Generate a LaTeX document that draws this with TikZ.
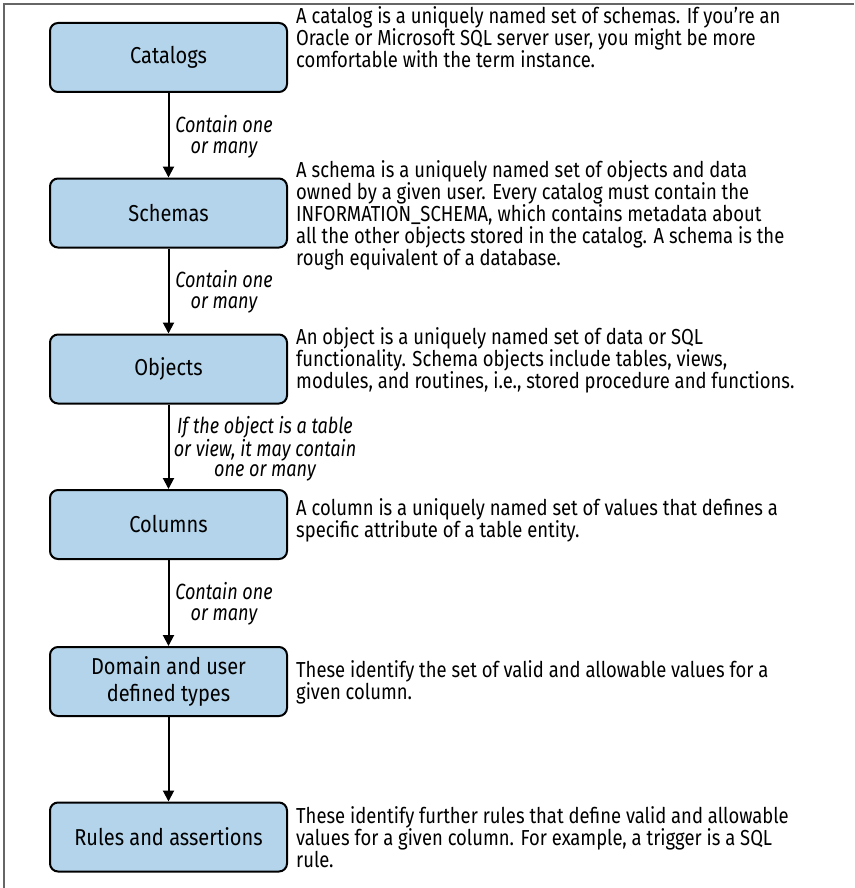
\documentclass[tikz,border=0pt]{standalone}
\usepackage{fontspec}
\setmainfont[FakeStretch=0.85]{Fira Sans}
\newfontfamily\boxfont[FakeStretch=0.87]{Fira Sans}
\newfontfamily\lblfont[FakeStretch=0.82]{Fira Sans}
\usetikzlibrary{arrows.meta}
\definecolor{boxblue}{HTML}{B3D4EA}
\definecolor{framegray}{HTML}{666666}
\tikzset{
  x=1pt, y=-1pt,
  entity/.style={draw=black, line width=2pt, fill=boxblue, rounded corners=8pt,
    minimum width=237pt, minimum height=69pt, inner sep=2pt, align=center,
    font=\boxfont\fontsize{23}{27}\selectfont},
  desc/.style={anchor=west, align=left, inner sep=0pt, font=\fontsize{21.7}{22}\selectfont},
  lbl/.style={align=center, inner sep=0pt, font=\lblfont\fontsize{22}{20.5}\selectfont\itshape},
  link/.style={line width=2pt, -{Triangle[length=11pt,width=11pt]}},
}
\begin{document}
\begin{tikzpicture}
\useasboundingbox (0,0) rectangle (854,888);
\draw[framegray, line width=1.5pt] (4,888) -- (4,4) -- (854,4);

\node[entity] (cat) at (168.5,57.5) {Catalogs};
\node[entity] (sch) at (168.5,213) {Schemas};
\node[entity] (obj) at (168.5,369) {Objects};
\node[entity] (col) at (168.5,524.5) {Columns};
\node[entity] (dom) at (168.5,681.5) {Domain and user\\defined types};
\node[entity] (rul) at (168.5,837) {Rules and assertions};

\draw[link] (cat) -- (sch);
\draw[link] (sch) -- (obj);
\draw[link] (obj) -- (col);
\draw[link] (col) -- (dom);
\draw[link] (dom) -- (rul);

\node[lbl] (l1) at (224,137) {Contain one\\or many};
\node[lbl] (l2) at (224,292) {Contain one\\or many};
\node[lbl] (l3) at (265,449) {If the object is a table\\or view, it may contain\\one or many};
\node[lbl] (l4) at (224,604) {Contain one\\or many};

\node[desc] (d1) at (296,37) {A catalog is a uniquely named set of schemas. If you’re an\\Oracle or Microsoft SQL server user, you might be more\\comfortable with the term instance.};
\node[desc] (d2) at (296,215) {A schema is a uniquely named set of objects and data\\owned by a given user. Every catalog must contain the\\INFORMATION\_SCHEMA, which contains metadata about\\all the other objects stored in the catalog. A schema is the\\rough equivalent of a database.};
\node[desc] (d3) at (296,360) {An object is a uniquely named set of data or SQL\\functionality. Schema objects include tables, views,\\modules, and routines, i.e., stored procedure and functions.};
\node[desc] (d4) at (296,520) {A column is a uniquely named set of values that defines a\\specific attribute of a table entity.};
\node[desc] (d5) at (296,682) {These identify the set of valid and allowable values for a\\given column.};
\node[desc] (d6) at (296,837) {These identify further rules that define valid and allowable\\values for a given column. For example, a trigger is a SQL\\rule.};
\end{tikzpicture}
\end{document}
